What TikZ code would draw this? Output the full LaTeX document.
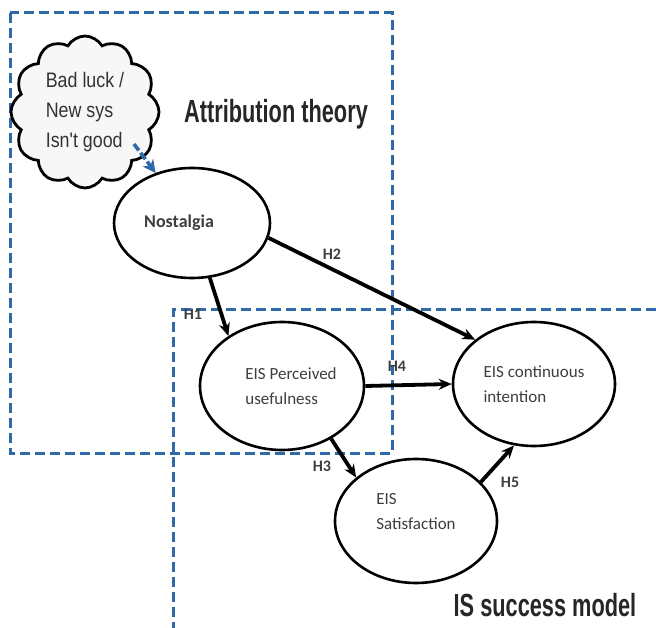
\documentclass[tikz,border=0pt]{standalone}
\usepackage{fontspec}
\setmainfont{Carlito}
\newfontfamily\cloudfont[FakeStretch=0.85]{Liberation Sans}
\newfontfamily\titlefont[FakeStretch=0.68]{Liberation Sans}
\usepackage{xcolor}
\usepackage{tikz}
\usetikzlibrary{positioning,shapes.geometric,shapes.symbols,arrows.meta}
\definecolor{dashblue}{RGB}{46,106,168}
\definecolor{txtgray}{RGB}{62,62,62}

\begin{document}
\begin{tikzpicture}[x=1pt, y=-1pt,
		construct/.style={ellipse, draw=black, fill=white, line width=2.6pt, inner sep=0pt, align=left, text=txtgray, font=\fontsize{17}{25}\selectfont},
		thought/.style={cloud, cloud puffs=12, cloud puff arc=120, cloud ignores aspect, draw=black, fill=gray!6, line width=2.8pt, inner sep=0pt, minimum width=148pt, minimum height=152pt, align=left, font=\cloudfont\fontsize{21}{30}\selectfont, text=black!80},
		hypo/.style={-{Stealth[length=13pt, width=11pt]}, line width=3.8pt},
		cause/.style={-{Stealth[length=13pt, width=13pt]}, dashblue, line width=3.6pt, dash pattern=on 8pt off 3pt},
		hlabel/.style={font=\bfseries\fontsize{16}{16}\selectfont, text=txtgray},
		region/.style={dashblue, line width=3pt, dash pattern=on 10pt off 5pt},
		title/.style={font=\titlefont\bfseries\fontsize{32}{32}\selectfont, text=black!85},
		]
		\useasboundingbox (0,0) rectangle (656,628);

		%Regions
		\draw[region]	(10,13) rectangle (392,453);
		\draw[region]	(656,310) -- (173,310) -- (173,628);
		\node[title]	(attr_title)	at (276,114)	{Attribution theory};
		\node[title]	(is_title)		at (545,605)	{IS success model};

		%Main Nodes
		\node[thought]	(belief)		at (85,112)		{\rule{0pt}{10pt}Bad luck /\\New sys\\Isn't good};
		\node[construct, minimum width=156pt, minimum height=110pt, font=\bfseries\fontsize{18}{20}\selectfont]	(nostalgia)	at (192,223)	{Nostalgia\hspace*{26pt}};
		\node[construct, minimum width=164pt, minimum height=128pt]	(usefulness)	at (282,386)	{\hspace*{18pt}EIS Perceived\\\hspace*{18pt}usefulness};
		\node[construct, minimum width=162pt, minimum height=124pt]	(intention)		at (534,384)	{EIS continuous\\intention};
		\node[construct, minimum width=162pt, minimum height=124pt]	(satisfaction)	at (416,521)	{EIS\\Satisfaction\\[-6pt]};
		\coordinate		(notch)			at (134,144);

		%Main Lines
		\draw[cause]	(notch)				--	(nostalgia.126);
		\draw[hypo]		(nostalgia.-72)		--	(usefulness.137);
		\draw[hypo]		(nostalgia.-11)		--	(intention.143);
		\draw[hypo]		(usefulness.east)	--	(intention.west);
		\draw[hypo]		(usefulness.-47)	--	(satisfaction.144);
		\draw[hypo]		(satisfaction.31)	--	(intention.-108);

		%Hypotheses
		\node[hlabel]	(h1)	at (193,314)	{H1};
		\node[hlabel]	(h2)	at (332,254)	{H2};
		\node[hlabel]	(h3)	at (322,466)	{H3};
		\node[hlabel]	(h4)	at (397,366)	{H4};
		\node[hlabel]	(h5)	at (510,482)	{H5};

	\end{tikzpicture}
\end{document}
